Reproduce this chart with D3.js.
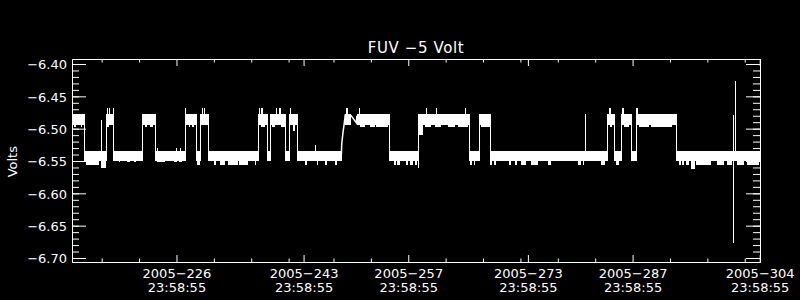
<!DOCTYPE html>
<html>
<head>
<meta charset="utf-8">
<script src="https://cdn.jsdelivr.net/npm/d3@7"></script>
<style>
  body { margin: 0; background: #000; }
  svg { display: block; background: #000; font-family: "DejaVu Sans", sans-serif; }
</style>
</head>
<body>
<svg id="main_svg" width="800" height="300"></svg>
<script>
// labels
const title = "FUV \u22125 Volt";
const yLabel = "Volts";
const tickYear = "2005";
const tickTime = "23:58:55";

// x axis: day-of-year, ticks at 23:58:55 of these days
const majorDays = [226, 243, 257, 273, 287, 304];
const minorDays = [216, 221, 231, 236, 241, 247, 252, 262, 267, 272, 277, 282, 292, 297, 302];
const dayRange = [213.03, 305.04];

// y axis
const yTicks = [-6.40, -6.45, -6.50, -6.55, -6.60, -6.65, -6.70];
const voltRange = [-6.70619, -6.39227];

// the two states the voltage flips between (top, bottom of the noise band)
const hiBand = [-6.4773, -6.4939];
const loBand = [-6.5340, -6.5495];

// [start day, end day, state]
const segments = [
  [213.03, 214.61, "hi"], [214.61, 217.60, "lo"], [217.60, 218.54, "hi"],
  [218.54, 222.41, "lo"], [222.41, 224.10, "hi"], [224.10, 228.11, "lo"],
  [228.11, 229.63, "hi"], [229.63, 230.21, "lo"], [230.21, 231.18, "hi"],
  [231.18, 237.96, "lo"], [237.96, 239.07, "hi"], [239.07, 239.53, "lo"],
  [239.53, 241.53, "hi"], [241.53, 242.11, "lo"], [242.11, 243.08, "hi"],
  [243.08, 249.08, "lo"], [249.59, 250.30, "hi"], [251.10, 255.45, "hi"],
  [255.45, 259.31, "lo"], [259.31, 266.08, "hi"], [266.08, 267.47, "lo"],
  [267.47, 268.94, "hi"], [268.94, 284.58, "lo"], [284.58, 285.46, "hi"],
  [285.46, 286.40, "lo"], [286.40, 287.74, "hi"], [287.74, 288.40, "lo"],
  [288.40, 293.84, "hi"], [293.84, 305.04, "lo"]
];

// noise reaching below the band: [start day, end day, lowest value]
const dips = [
  [213.27, 213.63, -6.498], [214.17, 214.39, -6.498], [214.93, 216.61, -6.5568],
  [216.93, 217.60, -6.561], [217.73, 218.04, -6.498], [219.29, 219.51, -6.5515],
  [220.41, 220.85, -6.5515], [221.29, 221.61, -6.5515], [222.76, 223.08, -6.498],
  [223.52, 223.83, -6.498], [224.42, 225.53, -6.5515], [226.64, 227.09, -6.5515],
  [227.31, 227.76, -6.5515], [228.65, 228.87, -6.498], [229.10, 229.31, -6.498],
  [229.77, 230.21, -6.5568], [232.08, 232.31, -6.5568], [232.84, 233.51, -6.5568],
  [233.95, 235.29, -6.5568], [235.38, 236.62, -6.5568], [237.52, 237.65, -6.5568],
  [238.27, 238.90, -6.498], [239.83, 240.19, -6.498], [240.94, 241.53, -6.498],
  [242.64, 242.87, -6.504], [244.20, 244.42, -6.5568], [245.75, 245.98, -6.5568],
  [246.88, 247.19, -6.5568], [248.21, 248.52, -6.5568], [251.50, 252.27, -6.498],
  [252.84, 253.51, -6.498], [253.74, 255.30, -6.498], [256.10, 256.41, -6.5568],
  [256.54, 256.85, -6.5568], [257.75, 257.97, -6.5568], [258.19, 258.64, -6.5568],
  [258.86, 259.22, -6.5568], [260.19, 261.09, -6.498], [261.53, 262.43, -6.498],
  [263.32, 264.21, -6.498], [264.66, 265.99, -6.498], [266.21, 266.53, -6.5568],
  [266.80, 266.97, -6.5568], [267.73, 268.94, -6.498], [268.98, 269.15, -6.5568],
  [269.51, 269.74, -6.5568], [270.10, 270.20, -6.5568], [271.52, 271.75, -6.5568],
  [272.32, 272.49, -6.5568], [273.08, 273.75, -6.5568], [274.42, 275.30, -6.5568],
  [276.64, 277.09, -6.5568], [277.31, 277.40, -6.5568], [280.65, 281.10, -6.5568],
  [281.32, 281.55, -6.5568], [283.78, 284.35, -6.5568], [284.98, 285.25, -6.498],
  [285.78, 286.22, -6.5568], [286.85, 287.52, -6.498], [288.86, 290.19, -6.498],
  [290.41, 293.31, -6.498], [294.20, 294.42, -6.5568], [294.65, 294.87, -6.5568],
  [295.09, 295.54, -6.5568], [295.85, 296.29, -6.5617], [296.42, 298.43, -6.5568],
  [299.33, 300.22, -6.5568], [300.66, 301.33, -6.5568], [302.00, 302.90, -6.5568],
  [303.34, 304.90, -6.5568]
];

// single samples sticking out of the band: [day, value]
const spikes = [
  [216.97, -6.486], [217.68, -6.468], [217.95, -6.468], [218.48, -6.468],
  [224.45, -6.530], [226.90, -6.530], [227.50, -6.530], [228.14, -6.468],
  [230.38, -6.468], [230.65, -6.468], [238.10, -6.468], [238.30, -6.468],
  [238.42, -6.468], [240.33, -6.468], [240.68, -6.468], [240.86, -6.468],
  [242.15, -6.468], [242.25, -6.468], [245.55, -6.526], [249.65, -6.468],
  [249.80, -6.468], [251.37, -6.468], [259.28, -6.561], [260.33, -6.468],
  [261.76, -6.468], [265.63, -6.468], [281.59, -6.4773], [284.79, -6.468],
  [284.95, -6.468], [286.53, -6.468], [286.76, -6.468], [288.45, -6.468],
  [288.65, -6.468]
];

// odd pieces
const extraBlocks = [[259.31, 259.98, -6.4863, -6.5094]];
const ramp = [[249.06, -6.540], [249.10, -6.524], [249.26, -6.507], [249.46, -6.490], [249.59, -6.4773]];
const transient = [[250.30, -6.479], [251.07, -6.491], [251.12, -6.480]];
const tallSpikes = [[301.47, -6.4786, -6.6774], [301.64, -6.4258, -6.5400]];

const svg = d3.select("#main_svg");
const x = d3.scaleLinear().domain(dayRange).range([72, 760]);
const y = d3.scaleLinear().domain(voltRange).range([262, 59]);

const hms = tickTime.split(":").map(Number);
const dayFrac = (hms[0] * 3600 + hms[1] * 60 + hms[2]) / 86400;

const bandOf = s => s === "hi" ? hiBand : loBand;
const segAt = day => segments.find(s => day >= s[0] && day <= s[1]);

const plot = svg.append("g").attr("id", "data_g").attr("shape-rendering", "crispEdges");

// noise bands
plot.selectAll(".seg").data(segments).enter().append("rect").attr("class", "seg")
  .attr("x", d => x(d[0])).attr("width", d => x(d[1]) - x(d[0]))
  .attr("y", d => y(bandOf(d[2])[0]))
  .attr("height", d => y(bandOf(d[2])[1]) - y(bandOf(d[2])[0]))
  .attr("fill", "#fff");

plot.selectAll(".dip").data(dips).enter().append("rect").attr("class", "dip")
  .attr("x", d => x(d[0])).attr("width", d => x(d[1]) - x(d[0]))
  .attr("y", d => y(bandOf(segAt(d[0])[2])[1]))
  .attr("height", d => y(d[2]) - y(bandOf(segAt(d[0])[2])[1]))
  .attr("fill", "#fff");

plot.selectAll(".extra").data(extraBlocks).enter().append("rect").attr("class", "extra")
  .attr("x", d => x(d[0])).attr("width", d => x(d[1]) - x(d[0]))
  .attr("y", d => y(d[2])).attr("height", d => y(d[3]) - y(d[2]))
  .attr("fill", "#fff");

// vertical jumps between states
const jumps = segments.filter((s, i) => i > 0 && s[0] === segments[i - 1][1] && s[2] !== segments[i - 1][2])
  .map(s => [s[0], hiBand[0], loBand[1]]);
plot.selectAll(".jump").data(jumps.concat(tallSpikes)).enter().append("line").attr("class", "jump")
  .attr("x1", d => Math.round(x(d[0])) + 0.5).attr("x2", d => Math.round(x(d[0])) + 0.5)
  .attr("y1", d => y(d[1])).attr("y2", d => y(d[2]))
  .attr("stroke", "#fff").attr("stroke-width", 1);

plot.selectAll(".spike").data(spikes).enter().append("line").attr("class", "spike")
  .attr("x1", d => Math.round(x(d[0])) + 0.5).attr("x2", d => Math.round(x(d[0])) + 0.5)
  .attr("y1", d => {
    const b = bandOf(segAt(d[0])[2]);
    return y(d[1] > b[0] ? b[0] : b[1]);
  })
  .attr("y2", d => y(d[1]))
  .attr("stroke", "#fff").attr("stroke-width", 1);

const line = d3.line().x(d => x(d[0])).y(d => y(d[1]));
svg.selectAll(".trace").data([ramp, transient]).enter().append("path").attr("class", "trace")
  .attr("d", line).attr("fill", "none").attr("stroke", "#fff").attr("stroke-width", 1.5);

// axes: box with inward ticks on all four sides
const majorPos = majorDays.map(d => d + dayFrac);
const minorPos = minorDays.map(d => d + dayFrac);
const yMinor = d3.range(0, 31).map(i => -6.70 + i * 0.01);

function styleAxis(g) {
  g.style("color", "#fff").attr("font-family", "DejaVu Sans, sans-serif").attr("font-size", 13);
}

svg.append("g").attr("transform", "translate(72,0)")
  .call(d3.axisLeft(y).tickValues(yMinor).tickSize(-7).tickSizeOuter(0).tickFormat(""))
  .call(styleAxis);
svg.append("g").attr("id", "y_axis").attr("transform", "translate(72,0)")
  .call(d3.axisLeft(y).tickValues(yTicks).tickSize(-14).tickSizeOuter(0).tickPadding(5).tickFormat(d3.format(".2f")))
  .call(styleAxis)
  .selectAll("text").attr("dy", "0.36em");

svg.append("g").attr("transform", "translate(760,0)")
  .call(d3.axisRight(y).tickValues(yMinor).tickSize(-7).tickSizeOuter(0).tickFormat(""))
  .call(styleAxis);
svg.append("g").attr("transform", "translate(760,0)")
  .call(d3.axisRight(y).tickValues(yTicks).tickSize(-14).tickSizeOuter(0).tickFormat(""))
  .call(styleAxis);

svg.append("g").attr("transform", "translate(0,59)")
  .call(d3.axisTop(x).tickValues(minorPos).tickSize(-3.5).tickSizeOuter(0).tickFormat(""))
  .call(styleAxis);
svg.append("g").attr("transform", "translate(0,59)")
  .call(d3.axisTop(x).tickValues(majorPos).tickSize(-7).tickSizeOuter(0).tickFormat(""))
  .call(styleAxis);

svg.append("g").attr("transform", "translate(0,262)")
  .call(d3.axisBottom(x).tickValues(minorPos).tickSize(-3.5).tickSizeOuter(0).tickFormat(""))
  .call(styleAxis);
const xAxis = svg.append("g").attr("id", "x_axis").attr("transform", "translate(0,262)")
  .call(d3.axisBottom(x).tickValues(majorPos).tickSize(-7).tickSizeOuter(0))
  .call(styleAxis);

// two-line date labels
xAxis.selectAll(".tick text").each(function(d, i) {
  const t = d3.select(this).text(null).attr("dy", null).attr("y", null);
  t.append("tspan").attr("x", 0).attr("y", 15.7).text(tickYear + "\u2212" + majorDays[i]);
  t.append("tspan").attr("x", 0).attr("y", 30.3).text(tickTime);
});

svg.append("text").attr("x", 416).attr("y", 53.3).attr("text-anchor", "middle")
  .attr("font-size", 15).attr("letter-spacing", 0.6).attr("fill", "#fff").text(title);

svg.append("text").attr("transform", "translate(17.3,161.7)rotate(-90)").attr("text-anchor", "middle")
  .attr("font-size", 13).attr("fill", "#fff").text(yLabel);
</script>
</body>
</html>
